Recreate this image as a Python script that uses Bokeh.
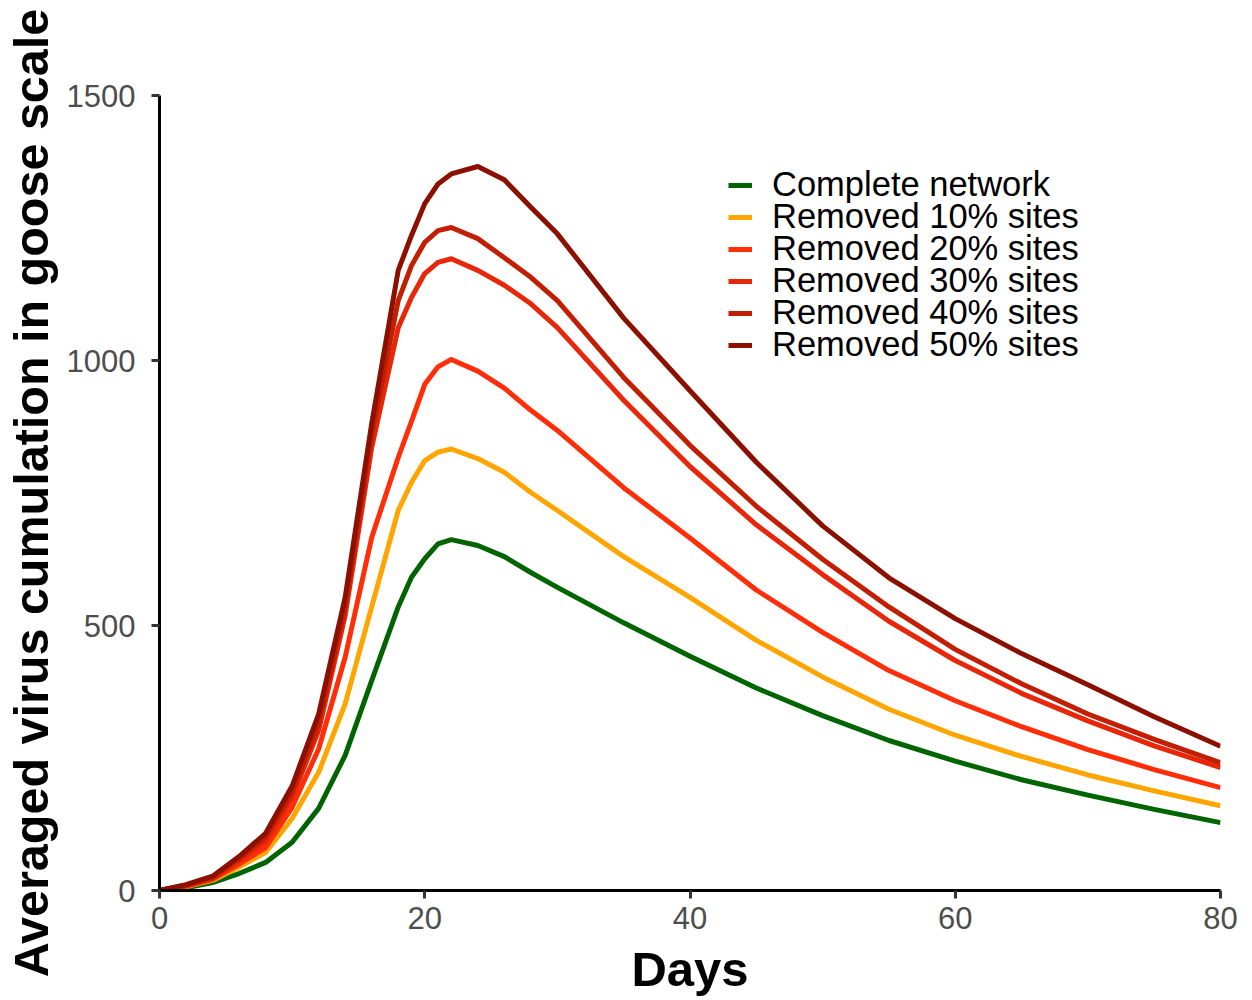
from bokeh.plotting import figure
from bokeh.models import Range1d, Legend, LegendItem, FixedTicker
from bokeh.embed import file_html
from bokeh.resources import INLINE

days = [0, 2, 4, 6, 8, 10, 12, 14, 16, 18, 19, 20, 21, 22, 24, 26, 28, 30,
        35, 40, 45, 50, 55, 60, 65, 70, 75, 80]

complete_network = [0, 5, 15, 32, 53, 91, 155, 255, 396, 535, 591, 626, 654, 662,
                    651, 630, 600, 572, 505, 442, 382, 330, 283, 244, 209, 180, 153, 128]
removed_10 = [0, 7, 19, 44, 72, 136, 223, 352, 535, 717, 770, 811, 827, 833,
              815, 789, 751, 717, 630, 553, 472, 403, 342, 293, 253, 218, 188, 160]
removed_20 = [0, 8, 21, 50, 81, 157, 267, 440, 666, 817, 885, 955, 988, 1002,
              980, 948, 906, 868, 760, 665, 567, 487, 415, 358, 309, 266, 228, 194]
removed_30 = [0, 9, 23, 56, 92, 175, 302, 519, 836, 1062, 1119, 1164, 1185, 1192,
              1170, 1142, 1107, 1062, 925, 800, 690, 596, 508, 434, 372, 320, 273, 232]
removed_40 = [0, 10, 25, 60, 100, 185, 315, 535, 862, 1113, 1179, 1223, 1245, 1251,
              1230, 1194, 1157, 1113, 968, 840, 725, 625, 535, 455, 390, 333, 285, 241]
removed_50 = [0, 11, 27, 64, 108, 197, 333, 553, 881, 1170, 1236, 1296, 1333, 1352,
              1366, 1341, 1289, 1239, 1080, 943, 808, 688, 590, 513, 447, 388, 328, 272]

series_labels = ["Complete network", "Removed 10% sites", "Removed 20% sites",
                 "Removed 30% sites", "Removed 40% sites", "Removed 50% sites"]
series_values = [complete_network, removed_10, removed_20, removed_30, removed_40, removed_50]
series_colors = ["#006400", "#FFA500", "#FF2E08", "#E8260A", "#C21E02", "#8B1000"]

x_ticks = [0, 20, 40, 60, 80]
y_ticks = [0, 500, 1000, 1500]

FONT = "Liberation Sans"

p = figure(width=1244, height=998, output_backend="svg", toolbar_location=None,
           x_range=Range1d(0, 80), y_range=Range1d(0, 1500),
           min_border_left=158, min_border_right=24, min_border_top=95, min_border_bottom=108)
p.outline_line_color = None
p.xgrid.visible = False
p.ygrid.visible = False
p.background_fill_color = "white"
p.border_fill_color = "white"

renderers = []
for vals, col in zip(series_values, series_colors):
    r = p.line(days, vals, line_color=col, line_width=5, line_join="round")
    renderers.append(r)

# one single-row legend per series, stacked with a tight 32px pitch
ROW_PITCH = 32
for k, (lab, r) in enumerate(zip(series_labels, renderers)):
    lg = Legend(items=[LegendItem(label=lab, renderers=[r])],
                location=(569, 686 - ROW_PITCH * k), orientation="vertical")
    lg.padding = 0
    lg.margin = 0
    lg.spacing = 0
    lg.border_line_color = None
    lg.background_fill_alpha = 0
    lg.glyph_width = 24
    lg.glyph_height = 32
    lg.label_height = 32
    lg.label_standoff = 20
    lg.label_text_font = FONT
    lg.label_text_font_size = "34.5px"
    lg.label_text_color = "black"
    p.add_layout(lg)

for ax in (p.xaxis[0], p.yaxis[0]):
    ax.axis_line_color = "black"
    ax.axis_line_width = 3
    ax.major_tick_line_color = "#333333"
    ax.major_tick_line_width = 3
    ax.major_tick_out = 8
    ax.major_tick_in = 0
    ax.minor_tick_line_color = None
    ax.major_label_text_font = FONT
    ax.major_label_text_font_size = "31px"
    ax.major_label_text_color = "#4D4D4D"
    ax.axis_label_text_font = FONT
    ax.axis_label_text_font_style = "bold"
    ax.axis_label_text_color = "black"

p.xaxis.ticker = FixedTicker(ticks=x_ticks)
p.yaxis.ticker = FixedTicker(ticks=y_ticks)
p.xaxis.axis_label = "Days"
p.yaxis.axis_label = "Averaged virus cumulation in goose scale"
p.xaxis.axis_label_text_font_size = "49px"
p.yaxis.axis_label_text_font_size = "48.5px"
p.xaxis.major_label_standoff = 8
p.yaxis.major_label_standoff = 16
p.xaxis.axis_label_standoff = 10
p.yaxis.axis_label_standoff = 6

open("out.html", "w").write(file_html(p, INLINE))
